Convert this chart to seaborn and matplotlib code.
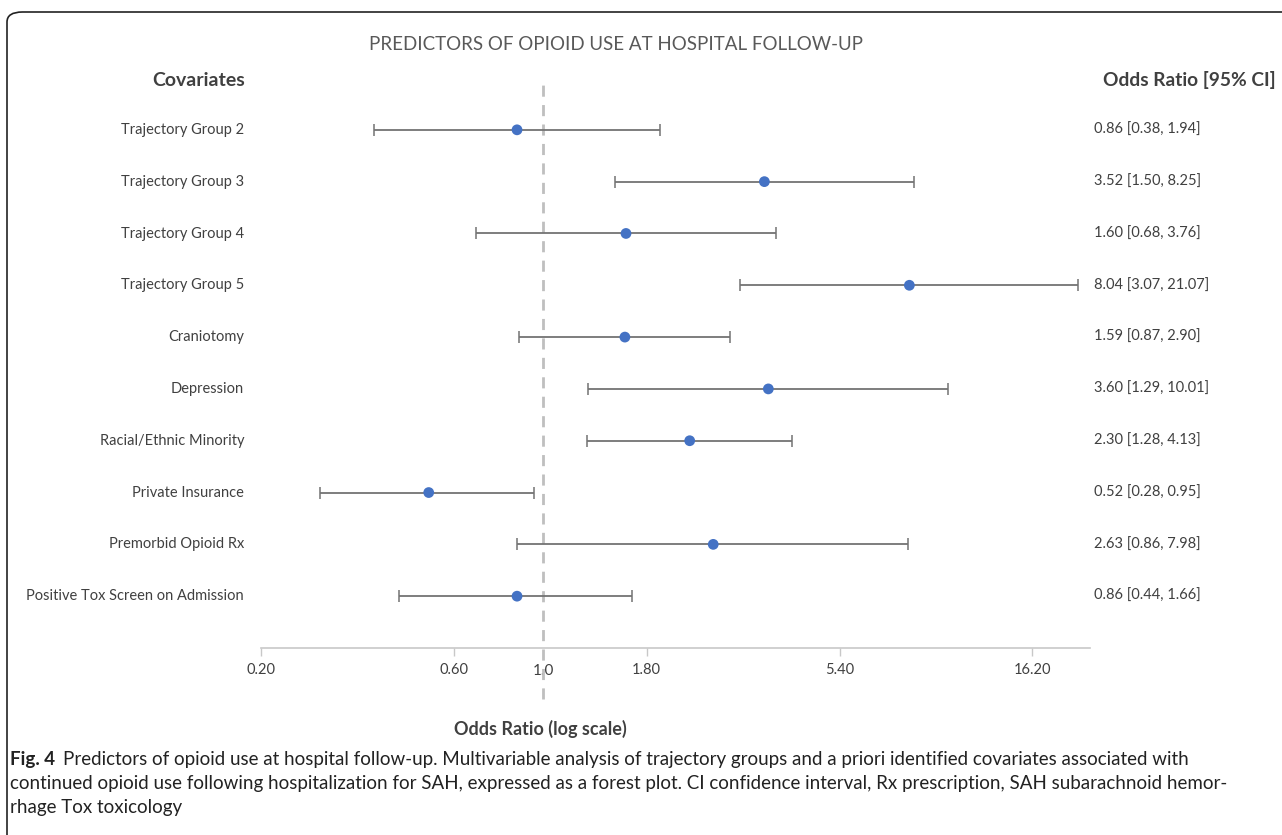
import numpy as np
import pandas as pd
import matplotlib
matplotlib.use('Agg')
import matplotlib.pyplot as plt
from matplotlib.patches import FancyBboxPatch
from matplotlib.ticker import FixedLocator, NullLocator, FixedFormatter
import seaborn as sns

# data
covariates = ['Trajectory Group 2', 'Trajectory Group 3', 'Trajectory Group 4',
              'Trajectory Group 5', 'Craniotomy', 'Depression',
              'Racial/Ethnic Minority', 'Private Insurance',
              'Premorbid Opioid Rx', 'Positive Tox Screen on Admission']
odds_ratio = [0.86, 3.52, 1.60, 8.04, 1.59, 3.60, 2.30, 0.52, 2.63, 0.86]
ci_low = [0.38, 1.50, 0.68, 3.07, 0.87, 1.29, 1.28, 0.28, 0.86, 0.44]
ci_high = [1.94, 8.25, 3.76, 21.07, 2.90, 10.01, 4.13, 0.95, 7.98, 1.66]
x_ticks = [0.20, 0.60, 1.80, 5.40, 16.20]

df = pd.DataFrame({'covariate': covariates, 'OR': odds_ratio,
                   'low': ci_low, 'high': ci_high})
df['row'] = np.arange(len(df))

sns.set_theme(style='white')
plt.rcParams['font.family'] = ['Lato', 'DejaVu Sans']

W, H = 1282, 835
fig = plt.figure(figsize=(W / 100, H / 100), dpi=100)

# axes box in pixel coordinates
left, right, top, bottom = 261, 1090, 78, 648
ax = fig.add_axes([left / W, 1 - bottom / H, (right - left) / W, (bottom - top) / H])

# confidence intervals
ax.errorbar(df['OR'], df['row'],
            xerr=[df['OR'] - df['low'], df['high'] - df['OR']],
            fmt='none', ecolor='#737373', elinewidth=1.3, capsize=4, capthick=1.1, zorder=2)
sns.scatterplot(data=df, x='OR', y='row', ax=ax, color='#4472C4', s=60,
                edgecolor='none', zorder=3, legend=False)

ax.set_xscale('log')
ax.set_xlim(0.2, 22.5)
ax.set_ylim(len(df), -1)

# reference line at OR = 1
ax.axvline(1.0, ymin=-0.09, ymax=1.0, color='#bfbfbf', lw=2, ls=(0, (4, 3)),
           clip_on=False, zorder=1)
ax.text(1.0, -0.028, '1.0', transform=ax.get_xaxis_transform(), ha='center', va='top',
        fontsize=11, color='#404040', zorder=0)

ax.xaxis.set_major_locator(FixedLocator(x_ticks))
ax.xaxis.set_major_formatter(FixedFormatter([f'{t:.2f}' for t in x_ticks]))
ax.xaxis.set_minor_locator(NullLocator())
ax.tick_params(axis='x', bottom=True, length=6, width=1, color='#c8c8c8',
               labelsize=10.5, labelcolor='#404040', pad=5)
ax.set_yticks([])
ax.set_xlabel('')
ax.set_ylabel('')
for s in ['top', 'right', 'left']:
    ax.spines[s].set_visible(False)
ax.spines['bottom'].set_color('#c8c8c8')
ax.spines['bottom'].set_linewidth(1.2)

# row labels and OR text
for _, r in df.iterrows():
    y_fig = 1 - (130 + r['row'] * 51.8) / H
    fig.text(244 / W, y_fig, r['covariate'], ha='right', va='center',
             fontsize=10.5, color='#404040')
    fig.text(1094 / W, y_fig, f"{r['OR']:.2f} [{r['low']:.2f}, {r['high']:.2f}]",
             ha='left', va='center', fontsize=10.5, color='#404040')

fig.text(245 / W, 1 - 80 / H, 'Covariates', ha='right', va='center',
         fontsize=14, fontweight='bold', color='#404040')
fig.text(1276 / W, 1 - 80 / H, 'Odds Ratio [95% CI]', ha='right', va='center',
         fontsize=13.8, fontweight='bold', color='#404040')
fig.text(616 / W, 1 - 45 / H, 'PREDICTORS OF OPIOID USE AT HOSPITAL FOLLOW-UP',
         ha='center', va='center', fontsize=13.5, color='#595959')
fig.text(540 / W, 1 - 729 / H, 'Odds Ratio (log scale)', ha='center', va='center',
         fontsize=13, fontweight='bold', color='#404040')

# caption
renderer = fig.canvas.get_renderer()
fig_lbl = fig.text(10 / W, 1 - 760 / H, 'Fig. 4', ha='left', va='center',
                   fontsize=13.5, fontweight='bold', color='#222222')
bb = fig_lbl.get_window_extent(renderer)
fig.text((bb.x1 + 8) / W, 1 - 760 / H,
         'Predictors of opioid use at hospital follow-up. Multivariable analysis of trajectory groups '
         'and a priori identified covariates associated with',
         ha='left', va='center', fontsize=13.5, color='#222222')
fig.text(10 / W, 1 - 784 / H,
         'continued opioid use following hospitalization for SAH, expressed as a forest plot. '
         'CI confidence interval, Rx prescription, SAH subarachnoid hemor-',
         ha='left', va='center', fontsize=13.5, color='#222222')
fig.text(10 / W, 1 - 808 / H, 'rhage Tox toxicology',
         ha='left', va='center', fontsize=13.5, color='#222222')

# rounded frame
frame = FancyBboxPatch((7 / W, -0.1), 1.2, 1 - 12 / H + 0.1,
                       boxstyle='round,pad=0,rounding_size=0.012',
                       transform=fig.transFigure, fill=False, ec='#222222', lw=1.2,
                       clip_on=False)
fig.patches.append(frame)

fig.savefig('out.png', dpi=100)
